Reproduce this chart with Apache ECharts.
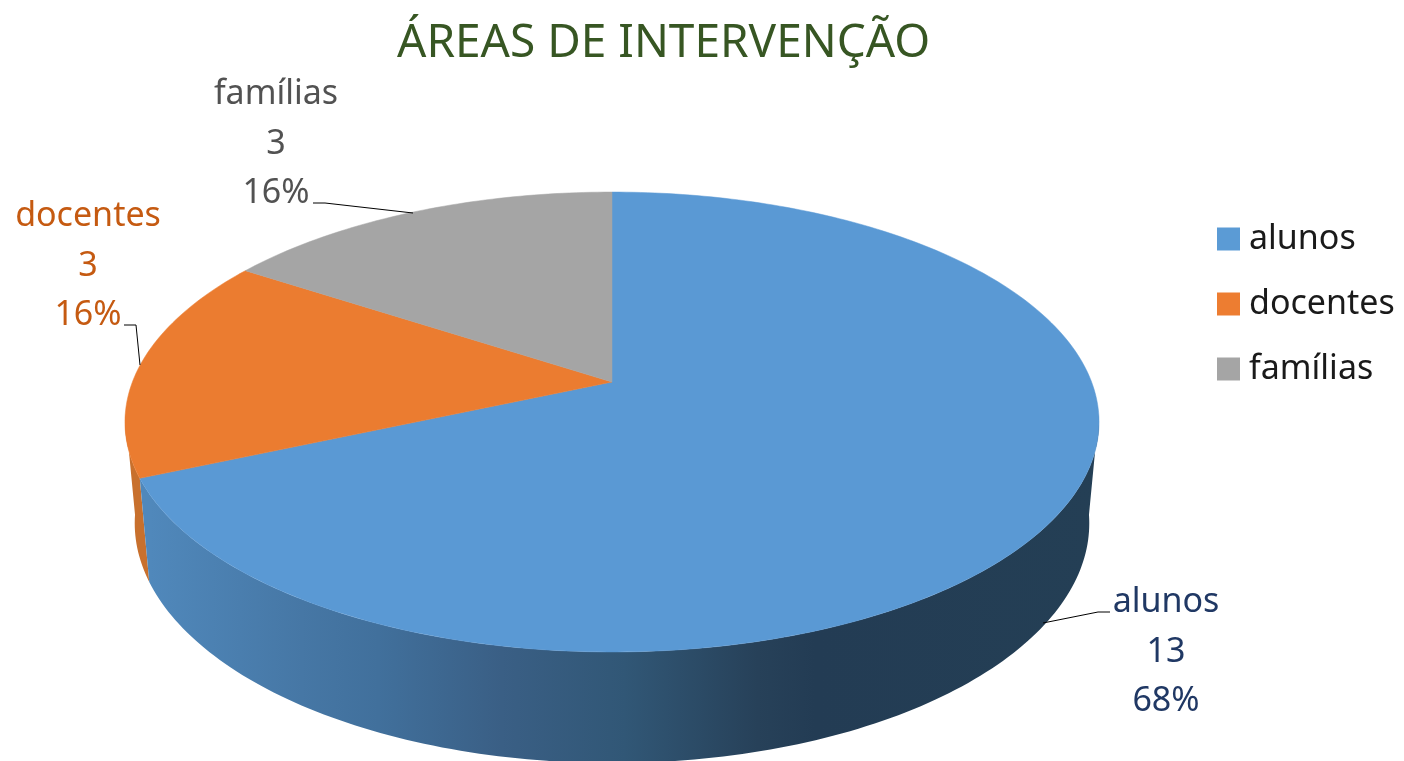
<!DOCTYPE html>
<html>
<head>
<meta charset="utf-8">
<style>html,body{margin:0;padding:0;background:#fff}#c{width:1404px;height:761px}</style>
<script src="https://cdn.jsdelivr.net/npm/echarts@6/dist/echarts.min.js"></script>
</head>
<body>
<div id="c"></div>
<script>
const categories = ['alunos', 'docentes', 'famílias'];
const values = [13, 3, 3];
const percentLabels = ['68%', '16%', '16%'];
const chartTitle = 'ÁREAS DE INTERVENÇÃO';

const FONT = '"Noto Sans", "Open Sans", sans-serif';
const topColors = ['#5a99d4', '#eb7c30', '#a5a5a5'];
const legendColors = ['#5b9bd5', '#ed7d31', '#a5a5a5'];
const labelColors = ['#203864', '#c55a11', '#525252'];
const labelPos = [[1166, 652], [88, 266], [276, 144]];
const leaderLines = [
  [[1043, 623], [1098, 612], [1110, 612]],
  [[124, 325], [136, 325], [140, 365]],
  [[313, 203], [325, 203], [413, 213]]
];

// Perspective projection of the pie disc
const K = 0.174;
const topDisc = { cx: 612, cy: 382, R: 479.6, S: 223 };
const baseDisc = { cx: 612, cy: 481.5, R: 470, S: 232.6 };
function project(d, deg) {
  const t = deg * Math.PI / 180, w = 1 + K * Math.cos(t);
  return [d.cx + d.R * Math.sin(t) / w, d.cy - d.S * Math.cos(t) / w];
}
function arc(d, a, b) {
  const n = Math.max(2, Math.ceil(Math.abs(b - a))), pts = [];
  for (let i = 0; i <= n; i++) pts.push(project(d, a + (b - a) * i / n));
  return pts;
}
const total = values.reduce((s, v) => s + v, 0);
const VIS_RIGHT = 98, VIS_LEFT = 262;

function wallFill(i) {
  if (i === 0) {
    return new echarts.graphic.LinearGradient(150, 0, 1100, 0, [
      { offset: 0, color: '#5088bb' },
      { offset: 0.16, color: '#4677a5' },
      { offset: 0.24, color: '#41709c' },
      { offset: 0.37, color: '#3a5f85' },
      { offset: 0.50, color: '#315776' },
      { offset: 0.64, color: '#274159' },
      { offset: 0.70, color: '#233c54' },
      { offset: 1, color: '#243f55' }
    ], true);
  }
  return '#c8702d';
}

function renderSlice(params, api) {
  const i = params.seriesIndex;
  let before = 0;
  for (let j = 0; j < i; j++) before += values[j];
  const v = api.value(0);
  const a = before / total * 360, b = (before + v) / total * 360;
  const children = [];
  const wa = Math.max(a, VIS_RIGHT), wb = Math.min(b, VIS_LEFT);
  if (wb > wa) {
    const pts = arc(topDisc, wa, wb).concat(arc(baseDisc, wb, wa));
    children.push({ type: 'polygon', z2: i === 0 ? 2 : 1, shape: { points: pts }, style: { fill: wallFill(i) } });
  }
  const fill = topColors[i];
  children.push({
    type: 'polygon', z2: 5,
    shape: { points: [[topDisc.cx, topDisc.cy]].concat(arc(topDisc, a, b)) },
    style: { fill: fill, stroke: fill, lineWidth: 0.5 }
  });
  children.push({
    type: 'polyline', z2: 6,
    shape: { points: leaderLines[i] },
    style: { fill: 'none', stroke: '#000', lineWidth: 1 }
  });
  children.push({
    type: 'text', z2: 7, x: labelPos[i][0], y: labelPos[i][1],
    style: {
      text: categories[i] + '\n' + v + '\n' + percentLabels[i],
      fill: labelColors[i], font: '34px ' + FONT, lineHeight: 49.5,
      align: 'center', verticalAlign: 'middle'
    }
  });
  return { type: 'group', children: children };
}

const chart = echarts.init(document.getElementById('c'), null, { renderer: 'canvas' });
chart.setOption({
  animation: false,
  backgroundColor: '#fff',
  title: {
    text: chartTitle, left: 392, top: 16,
    textStyle: { color: '#375623', fontFamily: FONT, fontWeight: 'normal', fontSize: 46 }
  },
  legend: {
    orient: 'vertical', left: 1212, top: 217, icon: 'rect',
    itemWidth: 23, itemHeight: 23, itemGap: 31, selectedMode: false,
    data: categories.map((name, i) => ({ name: name, itemStyle: { color: legendColors[i] } })),
    textStyle: { color: '#1a1a1a', fontFamily: FONT, fontSize: 34, lineHeight: 23, padding: [0, 0, 0, 4] }
  },
  series: categories.map((name, i) => ({
    type: 'custom', name: name, coordinateSystem: 'none',
    itemStyle: { color: topColors[i] },
    data: [[values[i]]],
    renderItem: renderSlice
  }))
});
</script>
</body>
</html>
